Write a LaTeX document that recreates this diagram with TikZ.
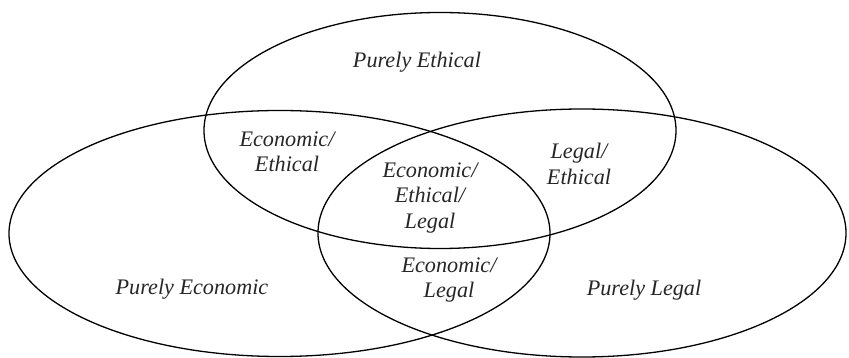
\documentclass[tikz,border=0pt]{standalone}
\usepackage{fontspec}
\setmainfont{Liberation Serif}
\begin{document}
\begin{tikzpicture}[x=1pt,y=-1pt,
  ring/.style={draw=black,line width=1.3pt},
  lbl/.style={font=\itshape\fontsize{22.2}{25.5}\selectfont,align=center,inner sep=0pt,text=black!85}]
\useasboundingbox (0,0) rectangle (849,358);
\draw[ring] (440,130.5) ellipse [x radius=236pt, y radius=118pt];
\draw[ring] (279.5,233.5) ellipse [x radius=270.5pt, y radius=123pt];
\draw[ring] (582,233) ellipse [x radius=264pt, y radius=124pt];
\node[lbl] (pe) at (417,62) {Purely Ethical};
\node[lbl] (ee) at (287,152) {Economic/\\Ethical};
\node[lbl] (eel) at (430,198) {Economic/\\Ethical/\\Legal};
\node[lbl] (le) at (579,164) {Legal/\\Ethical};
\node[lbl] (el) at (449,280) {Economic/\\Legal};
\node[lbl] (pec) at (192,289) {Purely Economic};
\node[lbl] (pl) at (644,290) {Purely Legal};
\end{tikzpicture}
\end{document}
